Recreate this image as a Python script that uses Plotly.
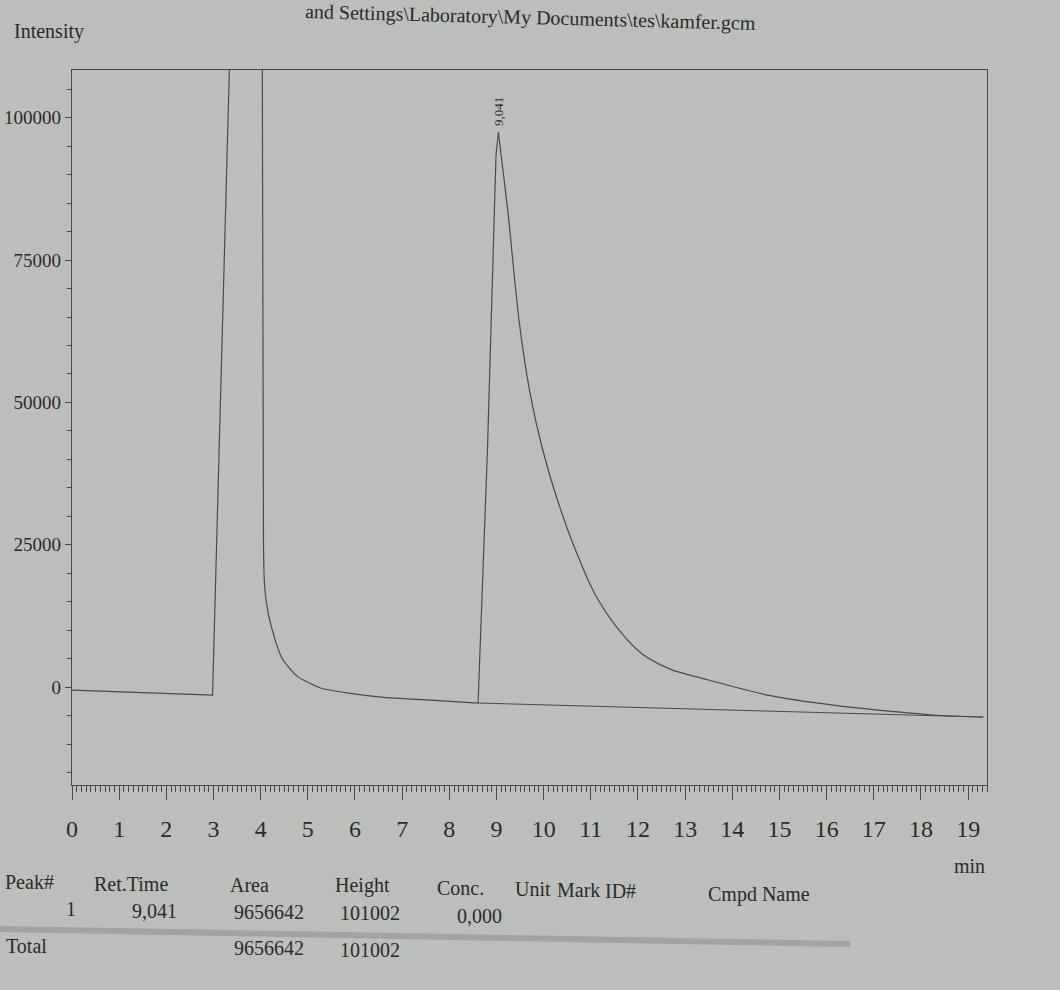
import plotly.graph_objects as go

# Chromatogram signal (retention time in min, detector intensity)
time_min = [0.0, 1.0, 2.0, 2.98, 3.39, 4.03, 4.06, 4.08, 4.13, 4.23, 4.44, 4.61,
            4.80, 5.08, 5.29, 5.86, 6.56, 7.61, 8.61, 8.81, 8.99, 9.041, 9.09,
            9.24, 9.48, 9.71, 9.97, 10.26, 10.65, 11.09, 11.60, 12.09, 12.68,
            13.38, 14.75, 16.14, 17.56, 18.26, 19.32]
intensity = [-550, -820, -1110, -1400, 125000, 125000, 25000, 18300, 14400,
             10500, 5300, 3340, 1750, 530, -200, -1050, -1750, -2300, -2800,
             42000, 93500, 97500, 94000, 83650, 64300, 51700, 42000, 33700,
             24600, 16300, 10000, 5800, 3160, 1500, -1400, -3160, -4400, -4900,
             -5270]

# Integration baseline under peak 1
baseline_time = [8.61, 19.32]
baseline_int = [-2800, -5270]

# Axis ticks
x_ticks = list(range(0, 20))
y_ticks = [0, 25000, 50000, 75000, 100000]

# Peak table
peak_no = [1]
ret_time = [9.041]
peak_area = [9656642]
peak_height = [101002]
peak_conc = [0.0]
total_area = [9656642]
total_height = [101002]

PAPER = "#bcbebb"
INK = "#2b2b2b"
LINE = "#4a4a4a"
SERIF = "Liberation Serif, Times New Roman, serif"

W, H = 1060, 990
L, R, T, B = 72, 987, 70, 785


def px(x):
    return (x - L) / (R - L)


def py(y):
    return (B - y) / (B - T)


def comma(v, nd=3):
    return f"{v:.{nd}f}".replace(".", ",")


fig = go.Figure()

# straight edges (solvent front, peak front) drawn linear, decays drawn smooth
i_decay1 = time_min.index(4.06)
i_front = time_min.index(8.61)
i_apex = time_min.index(ret_time[0])
segments = [(0, i_decay1, "linear"), (i_decay1, i_front, "spline"),
            (i_front, i_apex, "linear"), (i_apex, len(time_min) - 1, "spline")]
for a, b, shape in segments:
    fig.add_trace(go.Scatter(x=time_min[a:b + 1], y=intensity[a:b + 1], mode="lines",
                             line=dict(color=LINE, width=1.2, shape=shape, smoothing=0.8),
                             hoverinfo="skip"))

fig.add_trace(go.Scatter(x=baseline_time, y=baseline_int, mode="lines",
                         line=dict(color=LINE, width=1.0), hoverinfo="skip"))

# retention time label over the peak apex
fig.add_annotation(x=ret_time[0], y=intensity[i_apex], text=comma(ret_time[0]),
                   textangle=-90, showarrow=False, yanchor="bottom", yshift=4,
                   font=dict(family=SERIF, size=13, color=INK))

annots = []


def txt(s, x, y, size=20, anchor="left", angle=0):
    annots.append(dict(text=s, x=px(x), y=py(y), xref="paper", yref="paper",
                       xanchor=anchor, yanchor="middle", showarrow=False,
                       textangle=angle, font=dict(family=SERIF, size=size, color=INK)))


txt("Intensity", 12, 31, size=20)
txt("and Settings\\Laboratory\\My Documents\\tes\\kamfer.gcm", 530, 17, size=20,
    anchor="center", angle=1.5)
txt("min", 987, 866, size=20, anchor="right")

# table header
headers = [("Peak#", 3, 882), ("Ret.Time", 92, 884), ("Area", 228, 885),
           ("Height", 333, 886), ("Conc.", 435, 888), ("Unit", 513, 889),
           ("Mark", 555, 890), ("ID#", 603, 891), ("Cmpd Name", 706, 895)]
for s, x, y in headers:
    txt(s, x, y)

# peak row
row_y = 911
txt(str(peak_no[0]), 64, row_y - 2)
txt(comma(ret_time[0]), 130, row_y)
txt(str(peak_area[0]), 232, row_y + 1)
txt(str(peak_height[0]), 338, row_y + 2)
txt(comma(peak_conc[0]), 455, row_y + 5)

# total row
txt("Total", 4, 946)
txt(str(total_area[0]), 232, 948)
txt(str(total_height[0]), 338, 950)

fig.update_layout(
    width=W, height=H,
    margin=dict(l=L, r=W - R, t=T, b=H - B),
    paper_bgcolor=PAPER, plot_bgcolor=PAPER,
    showlegend=False,
    annotations=list(fig.layout.annotations) + annots,
    shapes=[dict(type="line", xref="paper", yref="paper",
                 x0=px(0), y0=py(929), x1=px(850), y1=py(944),
                 line=dict(color="rgba(70,72,70,0.22)", width=6))],
)

fig.update_xaxes(range=[0, 19.4], tickvals=x_ticks, ticktext=[str(v) for v in x_ticks],
                 automargin=False,
                 showgrid=False, zeroline=False, showline=True, mirror=True,
                 linecolor=LINE, linewidth=1.2, ticks="outside", ticklen=14,
                 tickcolor=LINE, ticklabelstandoff=8,
                 minor=dict(dtick=0.1, ticklen=6, tickcolor=LINE, ticks="outside"),
                 tickfont=dict(family=SERIF, size=24, color=INK))
fig.update_yaxes(range=[-17200, 108400], tickvals=y_ticks, ticktext=[str(v) for v in y_ticks],
                 automargin=False,
                 showgrid=False, zeroline=False, showline=True, mirror=True,
                 linecolor=LINE, linewidth=1.2, ticks="outside", ticklen=6,
                 tickcolor=LINE,
                 minor=dict(dtick=5000, ticklen=4, tickcolor=LINE, ticks="outside"),
                 tickfont=dict(family=SERIF, size=19, color=INK))

fig.write_html("out.html")
